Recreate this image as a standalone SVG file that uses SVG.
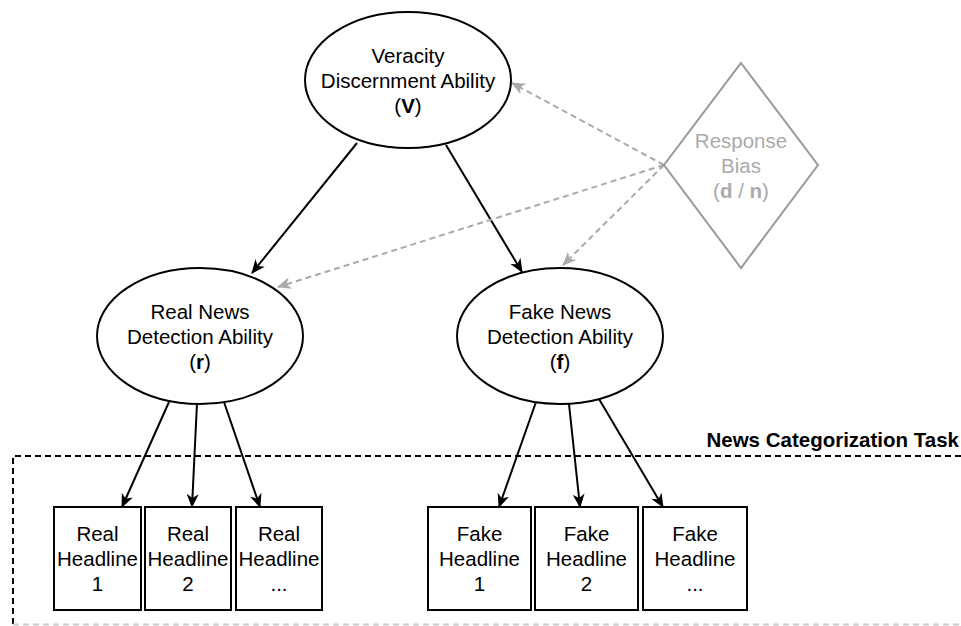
<svg xmlns="http://www.w3.org/2000/svg" width="961" height="626" viewBox="0 0 961 626">
<defs>
<style>
text{font-family:"Liberation Sans",Arial,sans-serif;font-size:20.5px;fill:#000;text-anchor:middle}
.node{fill:#fff;stroke:#000;stroke-width:2}
.bias{fill:#fff;stroke:#999;stroke-width:2}
.gtext{fill:#aaa}
.edge{stroke:#000;stroke-width:2;fill:none;marker-end:url(#ah)}
.dedge{stroke:#aaa;stroke-width:2;fill:none;stroke-dasharray:6 4;marker-end:url(#ahg)}
.b{font-weight:bold}
.title{font-weight:bold;text-anchor:end}
</style>
<marker id="ah" viewBox="0 0 14 12" refX="13" refY="6" markerWidth="14" markerHeight="12" markerUnits="userSpaceOnUse" orient="auto">
<path d="M0,0 L14,6 L0,12 L4,6 Z" fill="#000"/>
</marker>
<marker id="ahg" viewBox="0 0 14 12" refX="13" refY="6" markerWidth="14" markerHeight="12" markerUnits="userSpaceOnUse" orient="auto">
<path d="M0,0 L14,6 L0,12 L4,6 Z" fill="#aaa"/>
</marker>
</defs>
<rect width="961" height="626" fill="#fff"/>

<g id="task-frame">
<path d="M961,456 L13,456 L13,624" fill="none" stroke="#000" stroke-width="2" stroke-dasharray="6 4"/>
<path d="M13,624.5 L961,624.5" fill="none" stroke="#ccc" stroke-width="2" stroke-dasharray="6 4"/>
<text class="title" x="959" y="447">News Categorization Task</text>
</g>

<g id="connectors">
<line class="edge" x1="357" y1="143" x2="252" y2="273"/>
<line class="edge" x1="446" y1="145" x2="522" y2="272"/>
<line class="dedge" x1="664" y1="165" x2="512" y2="83"/>
<line class="dedge" x1="664" y1="165" x2="278" y2="287"/>
<line class="dedge" x1="664" y1="165" x2="563" y2="265"/>
<line class="edge" x1="169" y1="402" x2="122" y2="507"/>
<line class="edge" x1="197" y1="403" x2="192" y2="507"/>
<line class="edge" x1="224" y1="402" x2="260" y2="507"/>
<line class="edge" x1="536" y1="402" x2="499" y2="507"/>
<line class="edge" x1="569" y1="404" x2="580" y2="507"/>
<line class="edge" x1="599" y1="399" x2="663" y2="507"/>
</g>

<g id="node-V">
<ellipse class="node" cx="408" cy="80" rx="103" ry="68"/>
<text x="408" y="63">Veracity</text>
<text x="408" y="88">Discernment Ability</text>
<text x="408" y="113">(<tspan class="b">V</tspan>)</text>
</g>

<g id="node-bias">
<polygon class="bias" points="741,63 818,165 741,268 664,165"/>
<text class="gtext" x="741" y="148">Response</text>
<text class="gtext" x="741" y="173">Bias</text>
<text class="gtext" x="741" y="198">(<tspan class="b">d</tspan> / <tspan class="b">n</tspan>)</text>
</g>

<g id="node-r">
<ellipse class="node" cx="200" cy="336" rx="103" ry="68"/>
<text x="200" y="319">Real News</text>
<text x="200" y="344">Detection Ability</text>
<text x="200" y="369">(<tspan class="b">r</tspan>)</text>
</g>

<g id="node-f">
<ellipse class="node" cx="560" cy="336" rx="103" ry="68"/>
<text x="560" y="319">Fake News</text>
<text x="560" y="344">Detection Ability</text>
<text x="560" y="369">(<tspan class="b">f</tspan>)</text>
</g>

<g id="node-real1">
<rect class="node" x="54" y="507" width="87" height="103"/>
<text x="97.5" y="541">Real</text>
<text x="97.5" y="566">Headline</text>
<text x="97.5" y="591">1</text>
</g>
<g id="node-real2">
<rect class="node" x="145" y="507" width="86" height="103"/>
<text x="188" y="541">Real</text>
<text x="188" y="566">Headline</text>
<text x="188" y="591">2</text>
</g>
<g id="node-real3">
<rect class="node" x="236" y="507" width="86" height="103"/>
<text x="279" y="541">Real</text>
<text x="279" y="566">Headline</text>
<text x="279" y="591">...</text>
</g>

<g id="node-fake1">
<rect class="node" x="428" y="507" width="103" height="103"/>
<text x="479.5" y="541">Fake</text>
<text x="479.5" y="566">Headline</text>
<text x="479.5" y="591">1</text>
</g>
<g id="node-fake2">
<rect class="node" x="535" y="507" width="103" height="103"/>
<text x="586.5" y="541">Fake</text>
<text x="586.5" y="566">Headline</text>
<text x="586.5" y="591">2</text>
</g>
<g id="node-fake3">
<rect class="node" x="643" y="507" width="104" height="103"/>
<text x="695" y="541">Fake</text>
<text x="695" y="566">Headline</text>
<text x="695" y="591">...</text>
</g>
</svg>
